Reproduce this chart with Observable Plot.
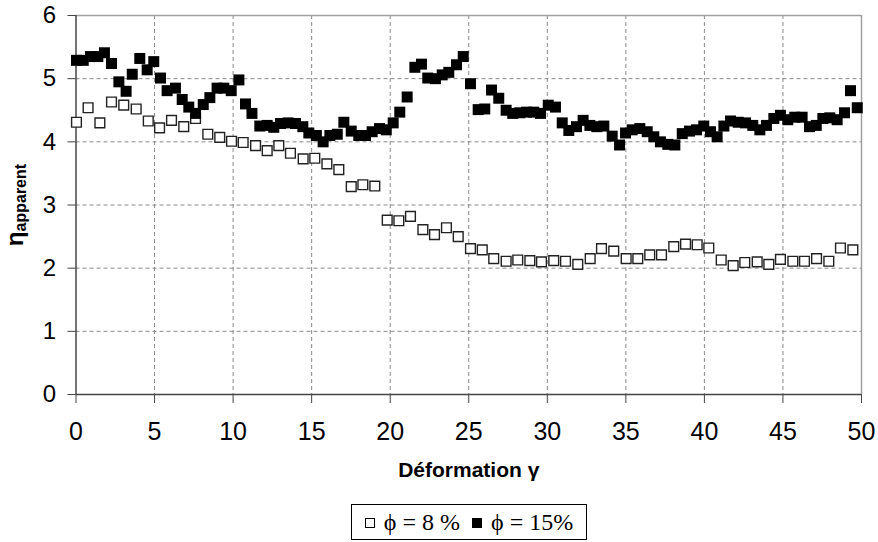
<!DOCTYPE html>
<html>
<head>
<meta charset="utf-8">
<script src="https://cdn.jsdelivr.net/npm/d3@7"></script>
<script src="https://cdn.jsdelivr.net/npm/@observablehq/plot@0.6"></script>
<style>
  html, body { margin: 0; padding: 0; background: #fff; }
  #wrap { position: relative; width: 878px; height: 542px; }
  #legend {
    position: absolute; left: 351px; top: 504px; width: 236px; height: 36px;
    border: 1px solid #000; box-sizing: border-box;
    font-family: "Liberation Serif", "Times New Roman", serif; font-size: 24px;
    display: flex; align-items: center; justify-content: center; white-space: pre; color: #000;
  }
  .sq { display: inline-block; width: 10px; height: 10px; box-sizing: border-box; border: 1px solid #000; margin-right: 9px; margin-left: 0px; position: relative; top: 1px; }
  .sq.filled { background: #000; }
</style>
</head>
<body>
<div id="wrap"></div>
<script>
// φ = 8 % (open squares)
const gamma8 = [0.03,0.77,1.52,2.26,3.04,3.83,4.60,5.32,6.08,6.86,7.61,8.39,9.15,9.90,10.64,11.43,12.17,12.91,13.65,14.46,15.20,15.97,16.73,17.52,18.26,19.02,19.81,20.55,21.29,22.08,22.82,23.58,24.33,25.11,25.86,26.59,27.38,28.12,28.89,29.63,30.41,31.16,31.94,32.73,33.45,34.23,35.02,35.76,36.52,37.27,38.05,38.80,39.54,40.28,41.07,41.83,42.57,43.36,44.10,44.84,45.63,46.37,47.14,47.92,48.66,49.45];
const eta8 = [4.31,4.54,4.30,4.63,4.58,4.52,4.33,4.22,4.34,4.24,4.37,4.12,4.07,4.01,3.99,3.94,3.86,3.94,3.82,3.73,3.74,3.65,3.56,3.29,3.32,3.30,2.76,2.75,2.82,2.61,2.53,2.64,2.50,2.31,2.29,2.15,2.11,2.13,2.12,2.10,2.12,2.11,2.06,2.15,2.31,2.27,2.15,2.15,2.21,2.21,2.34,2.38,2.37,2.32,2.13,2.04,2.09,2.10,2.06,2.14,2.11,2.11,2.15,2.11,2.32,2.29];

// φ = 15% (filled squares)
const gamma15 = [0.03,0.46,0.92,1.39,1.81,2.26,2.73,3.19,3.58,4.06,4.53,4.95,5.38,5.80,6.33,6.76,7.18,7.61,8.10,8.52,8.98,9.41,9.88,10.37,10.79,11.20,11.70,12.17,12.59,13.02,13.50,13.97,14.44,14.82,15.30,15.73,16.16,16.63,17.05,17.52,18.00,18.43,18.85,19.32,19.75,20.19,20.61,21.08,21.57,21.99,22.39,22.88,23.31,23.73,24.22,24.65,25.11,25.60,26.02,26.45,26.91,27.38,27.80,28.25,28.68,29.14,29.57,30.06,30.52,30.95,31.37,31.86,32.28,32.71,33.15,33.60,34.13,34.60,34.98,35.40,35.89,36.36,36.78,37.20,37.67,38.12,38.59,39.05,39.50,39.96,40.39,40.81,41.24,41.66,42.15,42.62,43.08,43.53,43.95,44.42,44.84,45.31,45.75,46.22,46.69,47.12,47.54,47.98,48.45,48.92,49.30,49.73];
const eta15 = [5.29,5.29,5.35,5.35,5.41,5.24,4.95,4.80,5.07,5.32,5.14,5.27,5.01,4.81,4.85,4.67,4.55,4.45,4.59,4.70,4.85,4.85,4.81,4.98,4.60,4.45,4.25,4.26,4.23,4.29,4.30,4.29,4.24,4.14,4.10,4.00,4.10,4.12,4.31,4.17,4.10,4.10,4.16,4.21,4.19,4.30,4.47,4.71,5.18,5.23,5.01,5.00,5.06,5.10,5.22,5.35,4.92,4.51,4.52,4.82,4.69,4.50,4.45,4.46,4.47,4.47,4.45,4.58,4.55,4.30,4.18,4.24,4.34,4.26,4.24,4.25,4.09,3.95,4.14,4.19,4.21,4.16,4.08,4.00,3.96,3.95,4.13,4.17,4.19,4.25,4.16,4.08,4.25,4.33,4.31,4.30,4.26,4.19,4.26,4.37,4.42,4.35,4.39,4.39,4.24,4.26,4.37,4.38,4.35,4.46,4.81,4.54];

const xTicks = [0,5,10,15,20,25,30,35,40,45,50];
const yTicks = [0,1,2,3,4,5,6];
const xTitle = "Déformation γ";
const yTitleMain = "η";
const yTitleSub = "apparent";
const legendLabels = ["ϕ = 8 %", "ϕ = 15%"];

const open8 = gamma8.map((g, i) => ({g, eta: eta8[i]}));
const filled15 = gamma15.map((g, i) => ({g, eta: eta15[i]}));

const xMax = xTicks[xTicks.length - 1];
const yMax = yTicks[yTicks.length - 1];

const chart = Plot.plot({
  width: 878,
  height: 500,
  marginLeft: 75.5,
  marginRight: 17,
  marginTop: 15,
  marginBottom: 106,
  x: {domain: [0, xMax]},
  y: {domain: [0, yMax]},
  style: {fontFamily: "'Liberation Sans', Arial, sans-serif", fontSize: "24px", color: "#000", background: "#fff", overflow: "visible"},
  marks: [
    Plot.ruleX(xTicks.filter(d => d > 0 && d < xMax), {stroke: "#8a8a8a", strokeDasharray: "4,3", strokeWidth: 1}),
    Plot.ruleY(yTicks.filter(d => d > 0 && d < yMax), {stroke: "#8a8a8a", strokeDasharray: "4,3", strokeWidth: 1}),
    Plot.ruleY([yMax], {stroke: "#a0a0a0", strokeWidth: 1.5}),
    Plot.ruleX([xMax], {stroke: "#a0a0a0", strokeWidth: 1.5}),
    Plot.ruleX([0], {stroke: "#444", strokeWidth: 1.5}),
    Plot.ruleY([0], {stroke: "#444", strokeWidth: 1.5}),
    Plot.dot(open8, {x: "g", y: "eta", symbol: "square", r: 5.5, fill: "#fff", stroke: "#222", strokeWidth: 1.4}),
    Plot.dot(filled15, {x: "g", y: "eta", symbol: "square", r: 6.2, fill: "#000", stroke: "none"}),
    Plot.axisX(xTicks, {tickSize: 9, tickPadding: 19, fontSize: 25, label: null, stroke: "#444", tickFormat: d => String(d)}),
    Plot.axisY(yTicks, {tickSize: 8, tickPadding: 12, fontSize: 24, label: null, stroke: "#444", tickFormat: d => String(d)}),
    Plot.text([xTitle], {frameAnchor: "bottom", dy: 82, fontSize: 21, fontWeight: "bold", fill: "#000"})
  ]
});

const svg = d3.select(chart);
const yl = svg.append("text")
  .attr("transform", "translate(23,205) rotate(-90)")
  .attr("text-anchor", "middle")
  .attr("font-family", "'Liberation Sans', Arial, sans-serif")
  .attr("font-weight", "bold")
  .attr("fill", "#000");
yl.append("tspan").attr("font-size", 24).text(yTitleMain);
yl.append("tspan").attr("font-size", 16).attr("dy", 3).text(yTitleSub);

const wrap = document.getElementById("wrap");
wrap.appendChild(chart);

const legend = document.createElement("div");
legend.id = "legend";
const s1 = document.createElement("span"); s1.className = "sq";
const t1 = document.createElement("span"); t1.textContent = legendLabels[0] + "  ";
const s2 = document.createElement("span"); s2.className = "sq filled";
const t2 = document.createElement("span"); t2.textContent = legendLabels[1];
legend.append(s1, t1, s2, t2);
wrap.appendChild(legend);
</script>
</body>
</html>
